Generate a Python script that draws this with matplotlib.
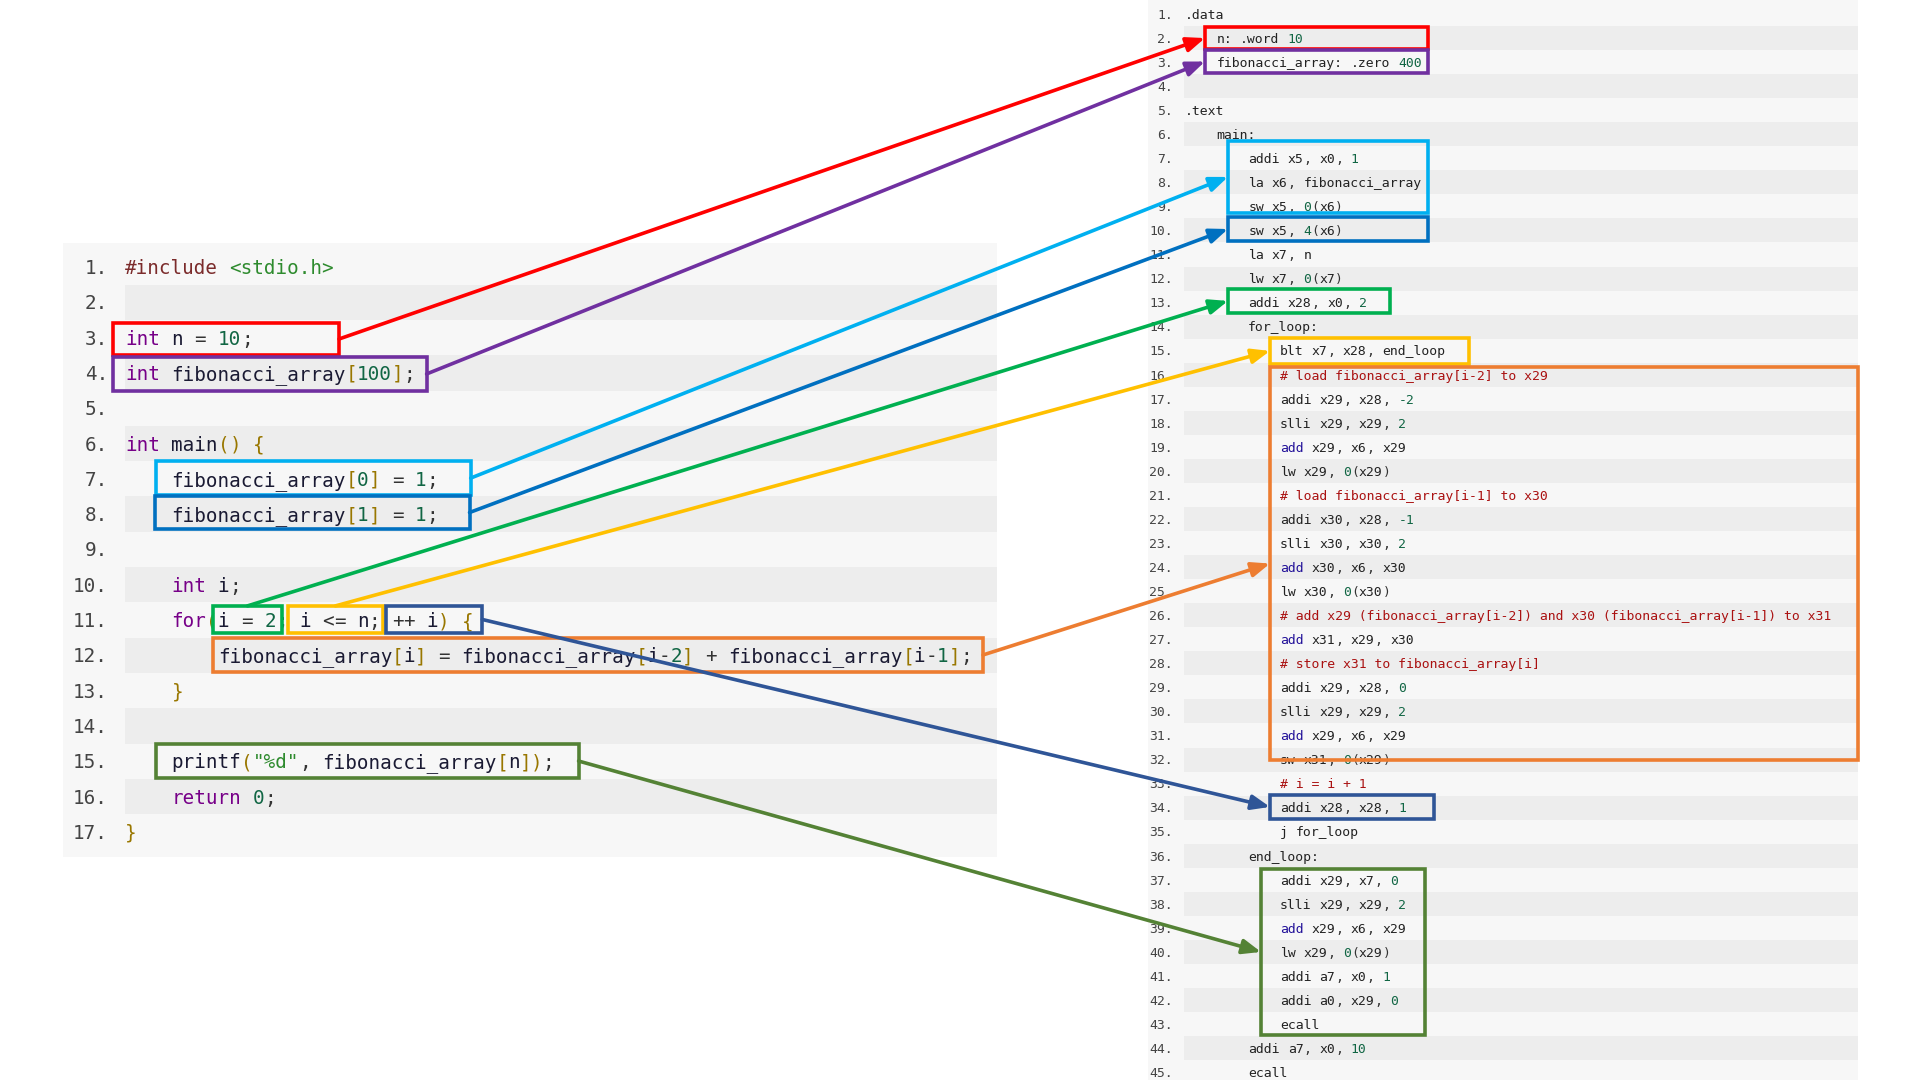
import re
import matplotlib
matplotlib.use("Agg")
import matplotlib.pyplot as plt
from matplotlib.patches import Rectangle, FancyArrowPatch

# ---------------- data ----------------
c_lines = [
    '#include <stdio.h>',
    '',
    'int n = 10;',
    'int fibonacci_array[100];',
    '',
    'int main() {',
    '    fibonacci_array[0] = 1;',
    '    fibonacci_array[1] = 1;',
    '',
    '    int i;',
    '    for(i = 2; i <= n; ++ i) {',
    '        fibonacci_array[i] = fibonacci_array[i-2] + fibonacci_array[i-1];',
    '    }',
    '',
    '    printf("%d", fibonacci_array[n]);',
    '    return 0;',
    '}',
]

asm_lines = [
    '.data',
    '    n: .word 10',
    '    fibonacci_array: .zero 400',
    '',
    '.text',
    '    main:',
    '        addi x5, x0, 1',
    '        la x6, fibonacci_array',
    '        sw x5, 0(x6)',
    '        sw x5, 4(x6)',
    '        la x7, n',
    '        lw x7, 0(x7)',
    '        addi x28, x0, 2',
    '        for_loop:',
    '            blt x7, x28, end_loop',
    '            # load fibonacci_array[i-2] to x29',
    '            addi x29, x28, -2',
    '            slli x29, x29, 2',
    '            add x29, x6, x29',
    '            lw x29, 0(x29)',
    '            # load fibonacci_array[i-1] to x30',
    '            addi x30, x28, -1',
    '            slli x30, x30, 2',
    '            add x30, x6, x30',
    '            lw x30, 0(x30)',
    '            # add x29 (fibonacci_array[i-2]) and x30 (fibonacci_array[i-1]) to x31',
    '            add x31, x29, x30',
    '            # store x31 to fibonacci_array[i]',
    '            addi x29, x28, 0',
    '            slli x29, x29, 2',
    '            add x29, x6, x29',
    '            sw x31, 0(x29)',
    '            # i = i + 1',
    '            addi x28, x28, 1',
    '            j for_loop',
    '        end_loop:',
    '            addi x29, x7, 0',
    '            slli x29, x29, 2',
    '            add x29, x6, x29',
    '            lw x29, 0(x29)',
    '            addi a7, x0, 1',
    '            addi a0, x29, 0',
    '            ecall',
    '        addi a7, x0, 10',
    '        ecall',
]

link_colors = ['#FF0000', '#7030A0', '#00B0F0', '#0070C0', '#00B050',
               '#FFC000', '#ED7D31', '#2F5597', '#548235']
# highlighted spans, in text-grid units (line number, column)
c_box_lines = [(2.59, 3.49), (3.55, 4.51), (6.50, 7.46), (7.49, 8.42), (10.60, 11.37),
               (10.60, 11.37), (11.51, 12.47), (10.60, 11.37), (14.51, 15.48)]
c_box_cols = [(-1.03, 18.45), (-1.03, 26.0), (2.67, 29.8), (2.59, 29.7), (7.59, 13.53),
              (14.05, 22.24), (7.59, 73.97), (22.5, 30.8), (2.67, 39.1)]
asm_box_lines = [(1.54, 2.46), (2.50, 3.45), (6.28, 9.27), (9.44, 10.44), (12.43, 13.43),
                 (14.47, 15.55), (15.68, 32.02), (33.47, 34.47), (36.55, 43.45)]
asm_box_cols = [(2.53, 30.76), (2.53, 30.76), (5.44, 30.76), (5.44, 30.76), (5.44, 25.95),
                (10.76, 35.95), (10.76, 85.2), (10.76, 31.52), (9.62, 30.38)]
link_from_top = [False, False, False, False, True, True, False, False, False]

# ---------------- layout ----------------
LEFT = dict(x_text=125, cw=11.6, y1=267, row=35.3, fs=13.9, num_right=108,
            band_x0=125, panel=(63, 243, 997, 857))
RIGHT = dict(x_text=1185, cw=7.9, y1=14, row=24.05, fs=9.45, num_right=1173,
             band_x0=1184, panel=(1148, 0, 1858, 1080))

MONO = 'DejaVu Sans Mono'
BG_LIGHT = '#F7F7F7'
BG_DARK = '#EDEDED'

fig = plt.figure(figsize=(19.2, 10.8), dpi=100)
ax = fig.add_axes([0, 0, 1, 1])
ax.set_xlim(0, 1920)
ax.set_ylim(1080, 0)
ax.axis('off')


def ly(L, lay):
    return lay['y1'] + (L - 1) * lay['row']


def lx(col, lay):
    return lay['x_text'] + col * lay['cw']


C_TOKEN = re.compile(r'(#include)|(<[\w.]+>)|("[^"]*")|\b(int|for|return)\b|(\d+)|([\[\](){}])|(\s+)|([A-Za-z_]\w*)|(.)')
C_COLORS = ['#7B2B2B', '#2E8B2E', '#2E8B2E', '#770088', '#116644', '#997700', None, '#1A1A33', '#333333']

ASM_TOKEN = re.compile(r'(\badd\b)|([A-Za-z_.][\w.]*:?)|(-?\d+)|(\s+)|(.)')
ASM_COLORS = ['#221199', '#222222', '#116644', None, '#333333']


def draw_code(lines, lay, tokenizer, colors, comment_color=None):
    x0, y0, x1, y1 = lay['panel']
    ax.add_patch(Rectangle((x0, y0), x1 - x0, y1 - y0, facecolor=BG_LIGHT,
                           edgecolor='none', zorder=0))
    em = lay['fs'] * 100 / 72
    for i, line in enumerate(lines, start=1):
        yc = ly(i, lay)
        if i % 2 == 0:
            ax.add_patch(Rectangle((lay['band_x0'], yc - lay['row'] / 2), x1 - lay['band_x0'],
                                   lay['row'], facecolor=BG_DARK, edgecolor='none', zorder=0.5))
        yb = yc + 0.365 * em
        ax.text(lay['num_right'], yb, f'{i}.', ha='right', va='baseline', fontsize=lay['fs'],
                family=MONO, color='#444444', zorder=2)
        stripped = line.lstrip()
        if comment_color and stripped.startswith('#'):
            col = len(line) - len(stripped)
            ax.text(lx(col, lay), yb, stripped, ha='left', va='baseline', fontsize=lay['fs'],
                    family=MONO, color=comment_color, zorder=2)
            continue
        for m in tokenizer.finditer(line):
            grp = m.lastindex - 1
            col_c = colors[grp]
            if col_c is None:
                continue
            ax.text(lx(m.start(), lay), yb, m.group(0), ha='left', va='baseline',
                    fontsize=lay['fs'], family=MONO, color=col_c, zorder=2)


draw_code(c_lines, LEFT, C_TOKEN, C_COLORS)
draw_code(asm_lines, RIGHT, ASM_TOKEN, ASM_COLORS, comment_color='#AA1111')

LW = 2.6
for k, color in enumerate(link_colors):
    # source box
    ct, cb = c_box_lines[k]
    cl, cr = c_box_cols[k]
    sx0, sx1 = lx(cl, LEFT), lx(cr, LEFT)
    sy0, sy1 = ly(ct, LEFT), ly(cb, LEFT)
    ax.add_patch(Rectangle((sx0, sy0), sx1 - sx0, sy1 - sy0, fill=False, edgecolor=color,
                           lw=LW, joinstyle='miter', zorder=3))
    # target box
    at, ab = asm_box_lines[k]
    al, ar = asm_box_cols[k]
    tx0, tx1 = lx(al, RIGHT), lx(ar, RIGHT)
    ty0, ty1 = ly(at, RIGHT), ly(ab, RIGHT)
    ax.add_patch(Rectangle((tx0, ty0), tx1 - tx0, ty1 - ty0, fill=False, edgecolor=color,
                           lw=LW, joinstyle='miter', zorder=3))
    # connecting arrow
    if link_from_top[k]:
        start = ((sx0 + sx1) / 2, sy0)
    else:
        start = (sx1, (sy0 + sy1) / 2)
    end = (tx0, (ty0 + ty1) / 2)
    ax.add_patch(FancyArrowPatch(start, end,
                                 arrowstyle='-|>,head_length=0.55,head_width=0.22',
                                 mutation_scale=20, lw=LW, color=color,
                                 shrinkA=0, shrinkB=0, zorder=5))

fig.savefig('out.png', dpi=100, facecolor='white')
